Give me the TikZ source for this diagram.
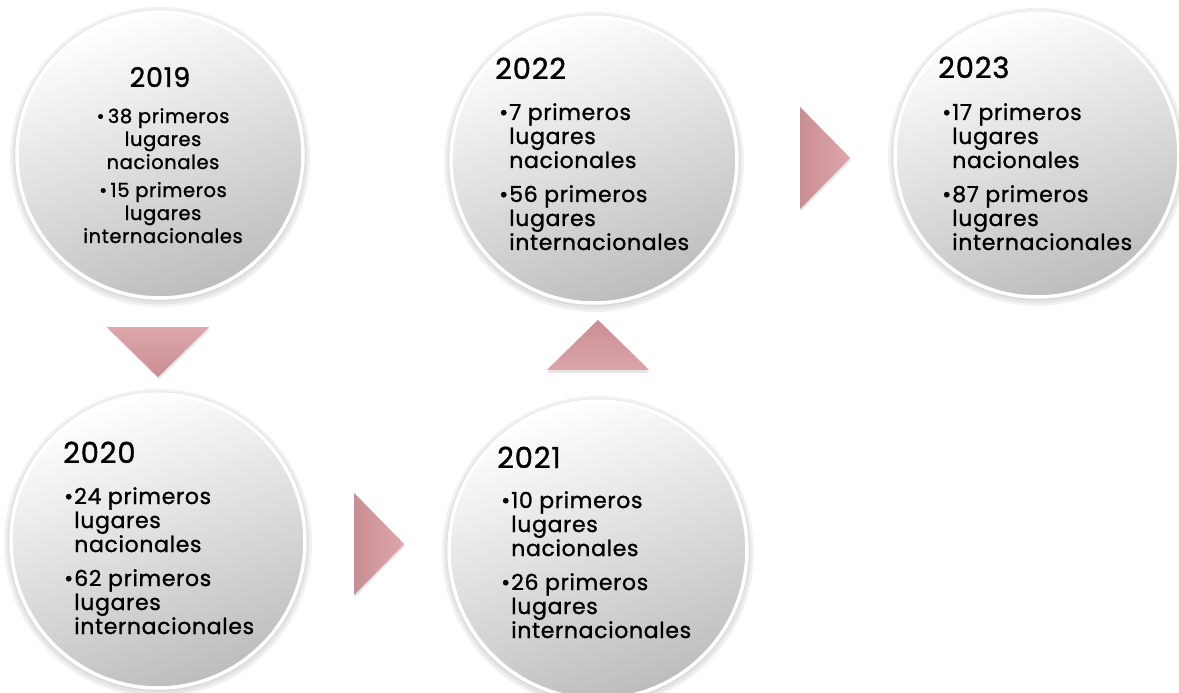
\documentclass[tikz,border=0pt]{standalone}
\usepackage{fontspec}
\setmainfont{Poppins}[LetterSpace=3, FakeBold=1.2]
\usetikzlibrary{shapes.geometric}
\definecolor{arrA}{HTML}{C98E94}
\definecolor{arrB}{HTML}{DDA7AC}
\tikzset{
  disc/.style={circle, minimum size=#1, inner sep=0pt, draw=white, line width=3.5pt,
    top color=white, bottom color=black!26, shading angle=20},
  halo/.style={circle, minimum size=#1, inner sep=0pt, fill=black, opacity=0.05, draw=none},
  yeartext/.style={font=\fontsize{29}{30}\selectfont, inner sep=0pt},
  listtext/.style={font=\fontsize{22}{24}\selectfont, inner sep=0pt},
  smalllist/.style={font=\fontsize{19.5}{23}\selectfont, inner sep=0pt},
  tri/.style={isosceles triangle, isosceles triangle stretches, inner sep=0pt,
    minimum width=102pt, minimum height=50pt, draw=none},
  trishadow/.style={tri, fill=black, opacity=0.10},
}
\newcommand{\haloat}[3]{%
  \node[halo=#3+14pt] at (#1,#2+2) {};
  \node[halo=#3+9pt] at (#1,#2+2) {};
  \node[halo=#3+5pt] at (#1,#2+1) {};
}
\newcommand{\blist}[6]{\begin{tabular}[t]{@{}l@{\hspace{1pt}}l@{}}•&#1\\&#2\\&#3\\[10pt]•&#4\\&#5\\&#6\end{tabular}}
\begin{document}
\begin{tikzpicture}[x=1pt,y=-1pt]
\useasboundingbox (0,0) rectangle (1179,693);
% halos
\haloat{160}{155}{286pt}
\haloat{594}{160}{286pt}
\haloat{1037}{155}{284pt}
\haloat{158}{541}{294pt}
\haloat{598}{550}{298pt}
% circles
\node[disc=286pt] (c2019) at (160,155) {};
\node[disc=286pt] (c2022) at (594,160) {};
\node[disc=284pt] (c2023) at (1037,155) {};
\node[disc=294pt] (c2020) at (158,541) {};
\node[disc=298pt] (c2021) at (598,550) {};
% arrow shadows
\node[trishadow, shape border rotate=-90] at (159,350) {};
\node[trishadow, shape border rotate=0] at (376,546) {};
\node[trishadow, shape border rotate=90] at (598,352) {};
\node[trishadow, shape border rotate=0] at (822,160) {};
% arrows
\node[tri, shape border rotate=-90, top color=arrB, bottom color=arrA] (a1) at (158,348) {};
\node[tri, shape border rotate=0, left color=arrA, right color=arrB] (a2) at (375,544) {};
\node[tri, shape border rotate=90, top color=arrA, bottom color=arrB!90!arrA] (a3) at (598,349) {};
\node[tri, shape border rotate=0, left color=arrA, right color=arrB] (a4) at (821,158) {};
% 2019
\node[yeartext, font=\fontsize{27}{30}\selectfont, anchor=base] (y2019) at (160,87) {2019};
\node[smalllist, anchor=base] (t2019) at (163,123) {\begin{tabular}[t]{@{}c@{}}•\,38 primeros\\lugares\\nacionales\\[5pt]•\,15 primeros\\lugares\\internacionales\end{tabular}};
% 2022
\node[yeartext, anchor=base west] (y2022) at (495,79) {2022};
\node[listtext, anchor=base west] (t2022) at (499,120) {\blist{7 primeros}{lugares}{nacionales}{56 primeros}{lugares}{internacionales}};
% 2023
\node[yeartext, anchor=base west] (y2023) at (938,78) {2023};
\node[listtext, anchor=base west] (t2023) at (942,120) {\blist{17 primeros}{lugares}{nacionales}{87 primeros}{lugares}{internacionales}};
% 2020
\node[yeartext, anchor=base west] (y2020) at (63,463) {2020};
\node[listtext, anchor=base west] (t2020) at (64,504) {\blist{24 primeros}{lugares}{nacionales}{62 primeros}{lugares}{internacionales}};
% 2021
\node[yeartext, anchor=base west] (y2021) at (497,468) {2021};
\node[listtext, anchor=base west] (t2021) at (501,508) {\blist{10 primeros}{lugares}{nacionales}{26 primeros}{lugares}{internacionales}};
\end{tikzpicture}
\end{document}
